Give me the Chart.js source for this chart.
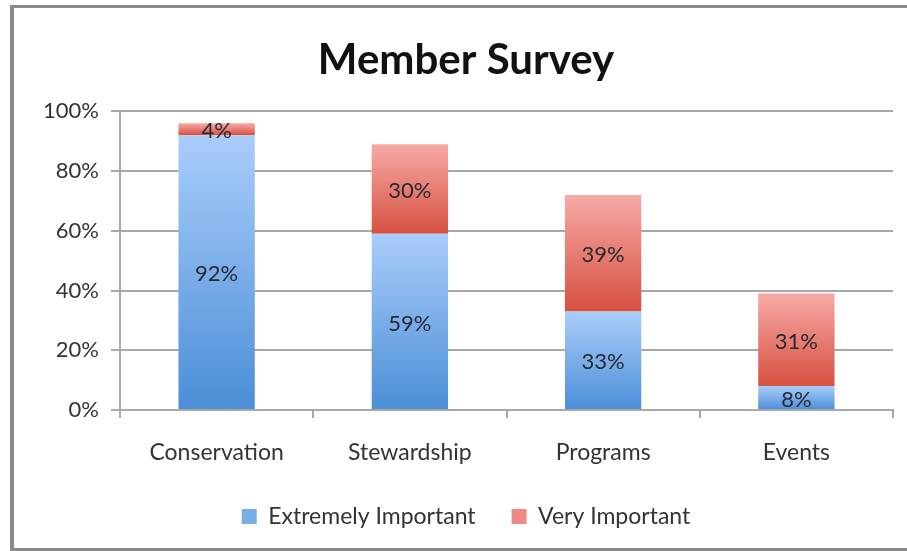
<!DOCTYPE html>
<html>
<head>
<meta charset="utf-8">
<script src="https://cdn.jsdelivr.net/npm/chart.js@4.4.1/dist/chart.umd.min.js"></script>
<style>
    html, body { margin: 0; padding: 0; background: #fff; overflow: hidden; width: 907px; height: 551px; }
    #frame {
        position: absolute; left: 10px; top: 5px; width: 912px; height: 546px;
        box-sizing: border-box; border: 4px solid #8a8a8a; border-top-width: 3px; border-bottom-width: 3px;
    }
    #wrap { position: absolute; left: 14px; top: 8px; width: 906px; height: 540px; }
</style>
</head>
<body>
<div id="frame"></div>
<div id="wrap"><canvas id="myChart"></canvas></div>
<script>
const categories = ['Conservation', 'Stewardship', 'Programs', 'Events'];
const extremelyImportant = [92, 59, 33, 8];
const veryImportant = [4, 30, 39, 31];
const seriesNames = ['Extremely Important', 'Very Important'];
const yTicks = [0, 20, 40, 60, 80, 100];
const legendColors = ['#78adec', '#ee8985'];

const FONT = 'Lato, "Open Sans", sans-serif';

// gradient per stacked segment, light at the top, darker at the bottom
function segmentFill(light, dark, flat) {
    return function(context) {
        const chart = context.chart;
        if (context.type !== 'data' || !chart.chartArea) return flat;
        const y = chart.scales.y;
        const i = context.dataIndex;
        const lo = context.datasetIndex === 0 ? 0 : extremelyImportant[i];
        const hi = lo + context.dataset.data[i];
        const g = chart.ctx.createLinearGradient(0, y.getPixelForValue(hi), 0, y.getPixelForValue(lo));
        g.addColorStop(0, light);
        g.addColorStop(1, dark);
        return g;
    };
}

// labels in the middle of each segment
const segmentLabels = {
    id: 'segmentLabels',
    afterDatasetsDraw(chart) {
        const ctx = chart.ctx;
        ctx.save();
        ctx.font = '22px ' + FONT;
        ctx.fillStyle = '#262a33';
        ctx.textAlign = 'center';
        ctx.textBaseline = 'middle';
        chart.data.datasets.forEach((ds, di) => {
            chart.getDatasetMeta(di).data.forEach((bar, i) => {
                const mid = (bar.y + bar.base) / 2;
                ctx.fillText(ds.data[i] + '%', bar.x, mid + 2);
            });
        });
        ctx.restore();
    }
};

const gridColor = '#a8a8a8';

new Chart(document.getElementById('myChart'), {
    type: 'bar',
    data: {
        labels: categories,
        datasets: [{
            label: seriesNames[0],
            data: extremelyImportant,
            backgroundColor: segmentFill('#aacdfa', '#4a8ed7', legendColors[0]),
            borderWidth: 0
        }, {
            label: seriesNames[1],
            data: veryImportant,
            backgroundColor: segmentFill('#f7aaa7', '#d6503f', legendColors[1]),
            borderWidth: 0
        }]
    },
    options: {
        responsive: true,
        maintainAspectRatio: false,
        animation: false,
        datasets: {
            bar: { categoryPercentage: 1, barPercentage: 0.395 }
        },
        layout: { padding: { left: 25, right: 27, top: 0, bottom: 10 } },
        plugins: {
            tooltip: { enabled: false },
            title: {
                display: true,
                text: 'Member Survey',
                color: '#111',
                font: { family: FONT, size: 42, weight: 'bold' },
                padding: { top: 27, bottom: 26 }
            },
            legend: {
                position: 'bottom',
                labels: {
                    color: '#333',
                    font: { family: FONT, size: 23 },
                    boxWidth: 15,
                    boxHeight: 15,
                    padding: 36,
                    generateLabels: (chart) => {
                        const items = Chart.defaults.plugins.legend.labels.generateLabels(chart);
                        items.forEach((item, i) => {
                            item.fillStyle = legendColors[i];
                            item.strokeStyle = legendColors[i];
                            item.lineWidth = 0;
                        });
                        return items;
                    }
                }
            }
        },
        scales: {
            x: {
                stacked: true,
                grid: { drawOnChartArea: false, color: gridColor, lineWidth: 2, tickLength: 8 },
                border: { color: gridColor, width: 2 },
                ticks: { color: '#333', font: { family: FONT, size: 23 }, padding: 21 },
                afterFit: (scale) => { scale.height = 59; }
            },
            y: {
                stacked: true,
                min: 0,
                max: 100,
                afterBuildTicks: (scale) => { scale.ticks = yTicks.map(v => ({ value: v })); },
                grid: { color: gridColor, lineWidth: 2, tickLength: 9 },
                border: { color: gridColor, width: 2 },
                ticks: {
                    color: '#333',
                    font: { family: FONT, size: 22 },
                    padding: 12,
                    callback: (value) => value + '%'
                },
                afterFit: (scale) => { scale.width = 81; }
            }
        }
    },
    plugins: [segmentLabels]
});
</script>
</body>
</html>
